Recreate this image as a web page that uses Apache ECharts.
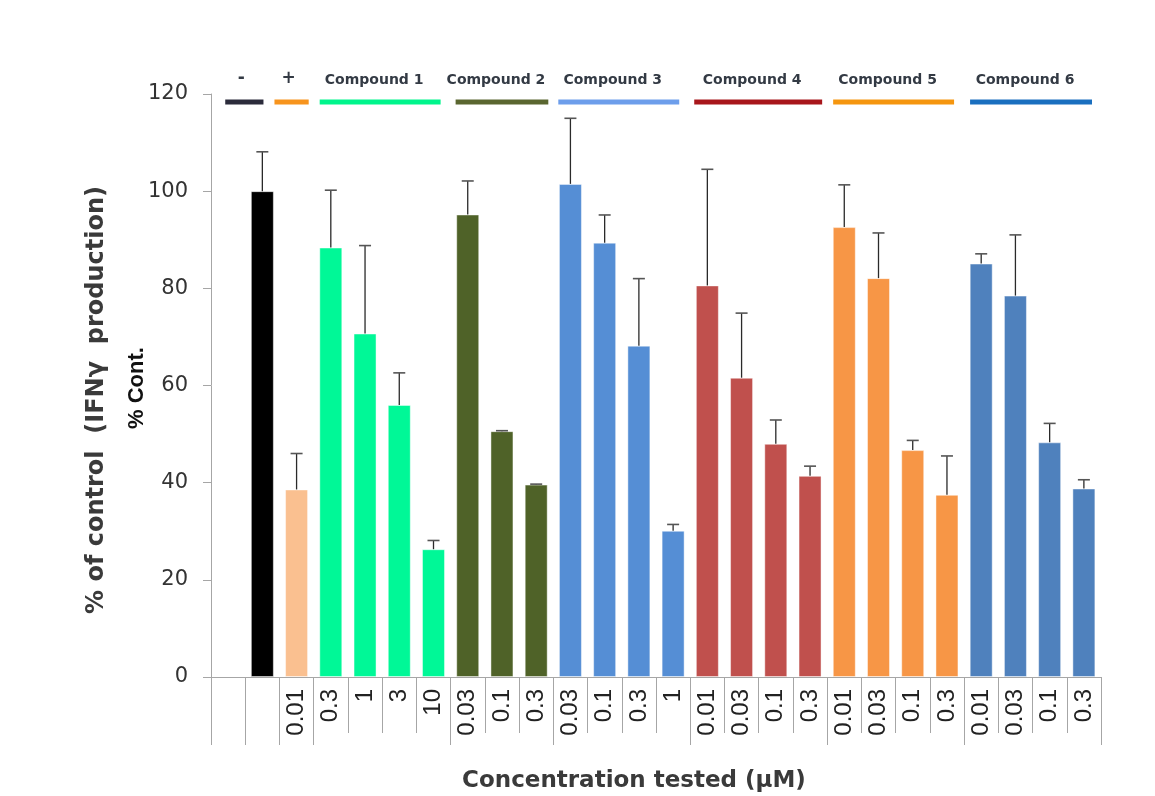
<!DOCTYPE html>
<html>
<head>
<meta charset="utf-8">
<script src="https://cdn.jsdelivr.net/npm/echarts@6/dist/echarts.min.js"></script>
<style>
  html, body { margin: 0; padding: 0; background: #ffffff; }
  #chart { width: 1155px; height: 796px; }
</style>
</head>
<body>
<div id="chart"></div>
<script>
// ---- data ----
const concentrations = ['', '', '0.01', '0.3', '1', '3', '10', '0.03', '0.1', '0.3', '0.03', '0.1', '0.3', '1', '0.01', '0.03', '0.1', '0.3', '0.01', '0.03', '0.1', '0.3', '0.01', '0.03', '0.1', '0.3'];
const percentOfControl = [null, 100, 38.6, 88.4, 70.7, 56.0, 26.3, 95.2, 50.6, 39.6, 101.5, 89.4, 68.2, 30.1, 80.6, 61.6, 48.0, 41.4, 92.6, 82.1, 46.7, 37.5, 85.1, 78.5, 48.3, 38.8];
const errorUp = [null, 8.1, 7.4, 11.8, 18.1, 6.6, 1.8, 6.9, 0.1, 0.1, 13.5, 5.7, 13.8, 1.3, 23.9, 13.3, 4.9, 2.0, 8.7, 9.3, 2.0, 8.0, 2.0, 12.5, 3.9, 1.8];
const groupLabels = ['-', '+', 'Compound 1', 'Compound 2', 'Compound 3', 'Compound 4', 'Compound 5', 'Compound 6'];
const groupFirst = [1, 2, 3, 7, 10, 14, 18, 22];
const groupLast = [1, 2, 6, 9, 13, 17, 21, 25];
const yTicks = [0, 20, 40, 60, 80, 100, 120];

// ---- styles ----
const groupBarColors = ['#000000', '#fac090', '#00f897', '#4f6228', '#558ed5', '#c0504d', '#f79646', '#4f81bd'];
const groupLineColors = ['#2b2b3b', '#f7941d', '#00f58c', '#5a6630', '#6d9eeb', '#a8161b', '#f5960f', '#1a6fbf'];
const headerInset = [[-20, -16], [-5, -5], [6, -10], [5, -5], [5, -11], [4, -5], [6, -10], [6, -9]];

function groupOf(i) {
  for (let g = 0; g < groupFirst.length; g++) {
    if (i >= groupFirst[g] && i <= groupLast[g]) return g;
  }
  return -1;
}

const barData = percentOfControl.map((v, i) => {
  const g = groupOf(i);
  return { value: v, itemStyle: { color: g >= 0 ? groupBarColors[g] : 'transparent' } };
});
const errData = [];
percentOfControl.forEach((v, i) => { if (v != null) errData.push([i, v, errorUp[i]]); });
const headerData = groupLabels.map((l, g) => [groupFirst[g], groupLast[g], g]);
const boundaryIdx = [0].concat(groupFirst);

const chart = echarts.init(document.getElementById('chart'), null, { renderer: 'canvas' });

const option = {
  animation: false,
  backgroundColor: '#ffffff',
  grid: { left: 211, right: 54, top: 94, bottom: 119, containLabel: false },
  xAxis: [
    {
      type: 'category',
      data: concentrations,
      position: 'bottom',
      axisLine: { show: true, lineStyle: { color: '#a6a6a6', width: 1 } },
      axisTick: { show: true, interval: 0, length: 56, lineStyle: { color: '#a6a6a6', width: 1 } },
      axisLabel: {
        interval: 0, rotate: 90, margin: 12,
        fontFamily: '"Liberation Sans Narrow", "Liberation Sans", Arial', fontSize: 24, color: '#222222'
      },
      splitLine: { show: false }
    },
    {
      type: 'category',
      data: concentrations,
      position: 'bottom',
      gridIndex: 0,
      axisLine: { show: false },
      axisTick: {
        show: true, length: 68,
        interval: function (idx) { return boundaryIdx.indexOf(idx) >= 0; },
        lineStyle: { color: '#a6a6a6', width: 1 }
      },
      axisLabel: { show: false },
      splitLine: { show: false }
    }
  ],
  yAxis: {
    type: 'value',
    min: 0, max: 120, interval: 20,
    axisLine: { show: true, lineStyle: { color: '#a6a6a6', width: 1 } },
    axisTick: { show: true, length: 8, lineStyle: { color: '#a6a6a6' } },
    axisLabel: {
      margin: 23, fontFamily: '"DejaVu Sans", Verdana', fontSize: 21, color: '#333333',
      formatter: function (v) { return yTicks.indexOf(v) >= 0 ? String(v) : ''; }
    },
    splitLine: { show: false }
  },
  series: [
    {
      type: 'bar',
      data: barData,
      barWidth: 23,
      itemStyle: { borderColor: 'rgba(255,255,255,0.45)', borderWidth: 1 },
      z: 2
    },
    {
      type: 'custom',
      data: errData,
      z: 3,
      renderItem: function (params, api) {
        const i = api.value(0), m = api.value(1), e = api.value(2);
        const p0 = api.coord([i, m]);
        const p1 = api.coord([i, m + e]);
        const cap = 6;
        return {
          type: 'group',
          children: [
            { type: 'line', shape: { x1: p0[0], y1: p0[1], x2: p1[0], y2: p1[1] }, style: { stroke: '#2a2a2a', lineWidth: 1.3 } },
            { type: 'line', shape: { x1: p1[0] - cap, y1: p1[1], x2: p1[0] + cap, y2: p1[1] }, style: { stroke: '#555555', lineWidth: 1.6 } }
          ]
        };
      }
    },
    {
      type: 'custom',
      data: headerData,
      clip: false,
      z: 4,
      renderItem: function (params, api) {
        const a = api.value(0), b = api.value(1), g = api.value(2);
        const bw = api.size([1, 0])[0];
        const pa = api.coord([a, 120]);
        const pb = api.coord([b, 120]);
        const x1 = pa[0] - bw / 2 + headerInset[g][0];
        const x2 = pb[0] + bw / 2 + headerInset[g][1];
        const top = pa[1];
        const isSymbol = groupLabels[g].length === 1;
        return {
          type: 'group',
          children: [
            { type: 'rect', shape: { x: x1, y: top + 5.5, width: x2 - x1, height: 5 }, style: { fill: groupLineColors[g] } },
            {
              type: 'text',
              style: {
                text: groupLabels[g], x: (x1 + x2) / 2 - (isSymbol ? 3 : 6), y: top - (isSymbol ? 15 : 13.5),
                align: 'center', verticalAlign: 'middle',
                font: (isSymbol ? 'bold 17px' : 'bold 14px') + ' "DejaVu Sans", Arial',
                fill: '#333a44'
              }
            }
          ]
        };
      }
    }
  ],
  graphic: [
    {
      type: 'text', x: 97, y: 400, rotation: Math.PI / 2,
      style: {
        text: '% of control  (IFNγ  production)', x: 0, y: 0, align: 'center', verticalAlign: 'middle',
        font: 'bold 24px "DejaVu Sans", Arial', fill: '#3a3a3a'
      }
    },
    {
      type: 'text', x: 137, y: 388, rotation: Math.PI / 2,
      style: {
        text: '% Cont.', x: 0, y: 0, align: 'center', verticalAlign: 'middle',
        font: 'bold 22px "Liberation Sans Narrow", "Liberation Sans", Arial', fill: '#111111'
      }
    },
    {
      type: 'text', x: 634, y: 781,
      style: {
        text: 'Concentration tested (μM)', x: 0, y: 0, align: 'center', verticalAlign: 'middle',
        font: 'bold 23px "DejaVu Sans", Arial', fill: '#3a3a3a'
      }
    }
  ]
};
chart.setOption(option);
</script>
</body>
</html>
